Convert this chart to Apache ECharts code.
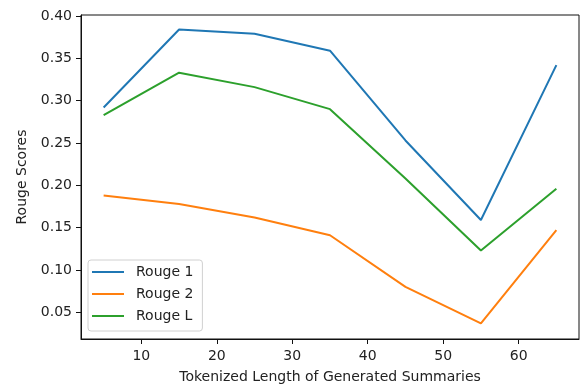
<!DOCTYPE html>
<html>
<head>
<meta charset="utf-8">
<script src="https://cdn.jsdelivr.net/npm/echarts@6/dist/echarts.min.js"></script>
<style>html,body{margin:0;padding:0;background:#fff}#c{width:580px;height:385px}</style>
</head>
<body>
<div id="c"></div>
<script>
const lengths = [5, 15, 25, 35, 45, 55, 65];
const rouge1 = [0.292, 0.384, 0.379, 0.359, 0.253, 0.159, 0.342];
const rouge2 = [0.188, 0.178, 0.162, 0.141, 0.080, 0.037, 0.147];
const rougeL = [0.283, 0.333, 0.316, 0.290, 0.208, 0.123, 0.196];
const xTicks = [10, 20, 30, 40, 50, 60];
const yTicks = [0.05, 0.10, 0.15, 0.20, 0.25, 0.30, 0.35, 0.40];
const seriesNames = ['Rouge 1', 'Rouge 2', 'Rouge L'];
const colors = ['#1f77b4', '#ff7f0e', '#2ca02c'];

const font = 'DejaVu Sans';
const fs = 14;
const chart = echarts.init(document.getElementById('c'), null, {renderer: 'canvas'});
const mk = (vals) => lengths.map((x, i) => [x, vals[i]]);
const allVals = [rouge1, rouge2, rougeL];
chart.setOption({
  animation: false,
  backgroundColor: '#fff',
  grid: {left: 81, right: 1, top: 15, bottom: 46, show: true, borderColor: '#111', borderWidth: 1,
    backgroundColor: 'transparent', containLabel: false, outerBoundsMode: 'none'},
  xAxis: {
    type: 'value', min: 2, max: 68,
    name: 'Tokenized Length of Generated Summaries', nameLocation: 'middle', nameGap: 31,
    nameTextStyle: {fontFamily: font, fontSize: fs, color: '#222'},
    splitLine: {show: false},
    axisLine: {show: true, lineStyle: {color: '#111', width: 1}},
    axisTick: {show: true, length: 5, lineStyle: {color: '#111'}, customValues: xTicks},
    axisLabel: {fontFamily: font, fontSize: fs, color: '#222', margin: 10, customValues: xTicks}
  },
  yAxis: {
    type: 'value', min: 0.0185, max: 0.4012,
    name: 'Rouge Scores', nameLocation: 'middle', nameGap: 52, nameRotate: 90,
    nameTextStyle: {fontFamily: font, fontSize: fs, color: '#222'},
    splitLine: {show: false},
    axisLine: {show: true, lineStyle: {color: '#111', width: 1}},
    axisTick: {show: true, length: 5, lineStyle: {color: '#111'}, customValues: yTicks},
    axisLabel: {fontFamily: font, fontSize: fs, color: '#222', margin: 9, customValues: yTicks,
      formatter: v => v.toFixed(2)}
  },
  legend: {
    orient: 'vertical', left: 88, top: 260,
    data: seriesNames,
    icon: 'rect', itemWidth: 32, itemHeight: 2, itemGap: 6,
    backgroundColor: '#fff', borderColor: '#d0d0d0', borderWidth: 1, borderRadius: 3,
    padding: [4, 9, 7, 4],
    textStyle: {fontFamily: font, fontSize: fs, color: '#222', lineHeight: 16, padding: [0, 0, 0, 7]}
  },
  series: seriesNames.map((n, i) => ({
    name: n, type: 'line', data: mk(allVals[i]),
    showSymbol: false, symbol: 'none',
    lineStyle: {color: colors[i], width: 2},
    itemStyle: {color: colors[i]}
  }))
});
</script>
</body>
</html>
